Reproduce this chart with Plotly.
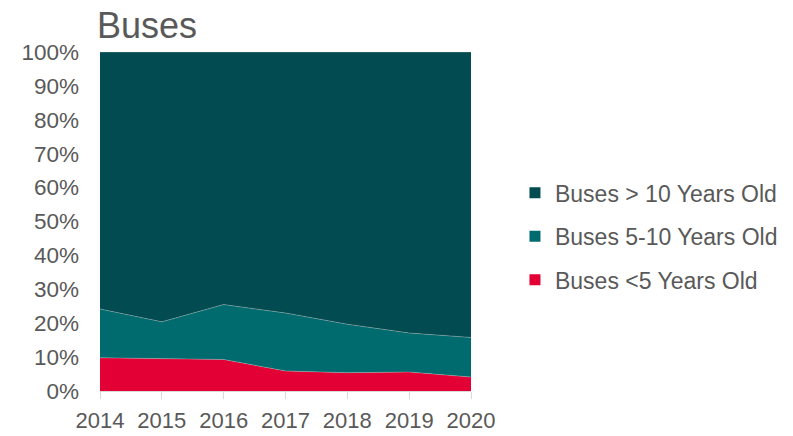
import plotly.graph_objects as go

years = ["2014", "2015", "2016", "2017", "2018", "2019", "2020"]
under_5 = [9.8, 9.5, 9.3, 5.9, 5.4, 5.6, 4.1]
five_to_10 = [14.4, 10.9, 16.2, 17.1, 14.3, 11.5, 11.7]
over_10 = [100 - a - b for a, b in zip(under_5, five_to_10)]

series = [
    ("Buses <5 Years Old", under_5, "#E30034"),
    ("Buses 5-10 Years Old", five_to_10, "#006B6E"),
    ("Buses > 10 Years Old", over_10, "#024B50"),
]

fig = go.Figure()
for name, vals, color in series:
    fig.add_trace(go.Scatter(
        x=years, y=vals, name=name, mode="lines",
        stackgroup="one", showlegend=False,
        line=dict(width=0.6, color="rgba(200,200,200,0.6)"),
        fillcolor=color,
    ))

# square legend keys, listed top-down like the reference
for name, vals, color in reversed(series):
    fig.add_trace(go.Scatter(
        x=[None], y=[None], name=name, mode="markers", legendgroup=name,
        marker=dict(symbol="square", size=11, color=color),
    ))

# the page body adds an 8px offset, margins are shifted to compensate
fig.update_layout(
    width=793, height=436,
    margin=dict(l=92, r=330, t=44, b=53),
    plot_bgcolor="white", paper_bgcolor="white",
    font=dict(family="Liberation Sans, Arial", size=22, color="#595959"),
    title=dict(text="Buses", xref="container", x=0.1122, xanchor="left",
               yref="container", y=0.988, yanchor="top",
               font=dict(size=36, color="#595959")),
    legend=dict(xref="container", x=0.6393, xanchor="left",
                y=0.456, yanchor="middle",
                traceorder="grouped", tracegroupgap=10.5,
                font=dict(size=23, color="#595959")),
    showlegend=True,
)
fig.update_xaxes(type="category", range=[0, 6], showline=True, linecolor="#D9D9D9",
                 linewidth=1, ticks="outside", tickcolor="#D9D9D9", ticklen=7,
                 showgrid=False, zeroline=False, automargin=False,
                 ticklabelstandoff=3)
fig.update_yaxes(range=[0, 100], dtick=10, ticksuffix="%", showgrid=False,
                 zeroline=False, showline=False, automargin=False,
                 ticklabelstandoff=20, tickfont=dict(size=22.5))

fig.write_html("out.html")
